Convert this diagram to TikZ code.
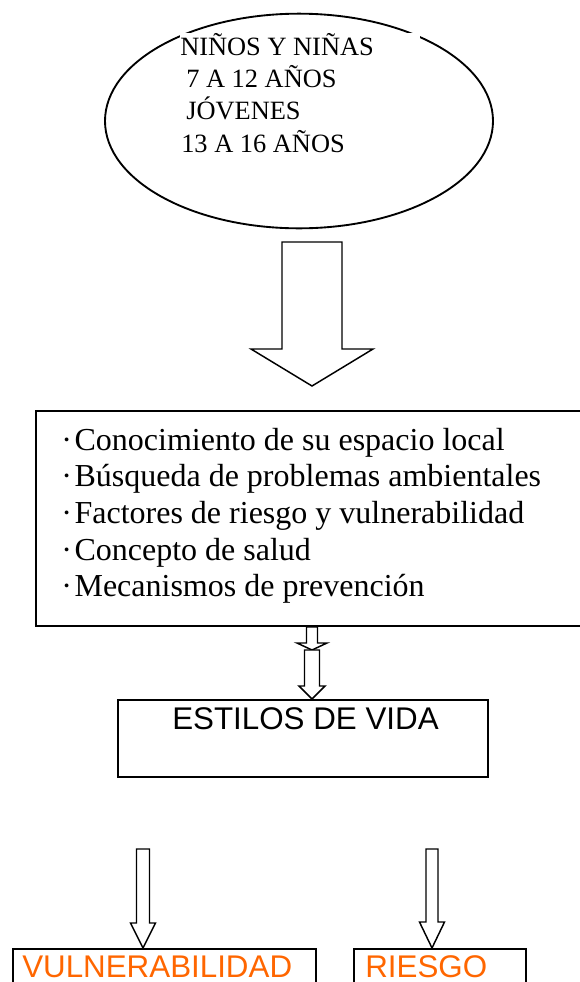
\documentclass[tikz,border=0pt]{standalone}
\usepackage{fontspec}
\setmainfont{Liberation Serif}
\newfontfamily\boxfont{Liberation Sans}
\usepackage{tikz}
\usetikzlibrary{shapes.geometric,calc}
\definecolor{naranja}{HTML}{FF6600}
\newcommand{\flechahueca}[5]{%
	\draw[flecha] ($(#1)+(-#3,0)$) -- ($(#2)+(-#3,-#5)$) -- ($(#2)+(-#4,-#5)$) -- (#2)
		-- ($(#2)+(#4,-#5)$) -- ($(#2)+(#3,-#5)$) -- ($(#1)+(#3,0)$) -- cycle;}

\begin{document}
\begin{tikzpicture}[x=0.75pt, y=-0.75pt, every node/.style={inner sep=0pt},
	caja/.style={draw, line width=1.4pt, anchor=north west},
	flecha/.style={draw, fill=white, line width=1.1pt, line join=miter},
	elip/.style={font=\fontsize{19.8}{24}\selectfont, anchor=base west},
	item/.style={font=\fontsize{24}{28}\selectfont, anchor=base west},
	rotulo/.style={font=\boxfont\fontsize{23.5}{28}\selectfont, anchor=base west}]
	\clip (0,0) rectangle (580,982);
	\node[draw, ellipse, line width=1.4pt, minimum width=291pt, minimum height=161pt] (grupo) at (299,121) {};
	\fill[white] (180,33) rectangle (420,160);
	\foreach \x/\y/\t [count=\i] in {180/55/NIÑOS Y NIÑAS, 186/87/7 A 12 AÑOS, 186/119/JÓVENES, 181/152/13 A 16 AÑOS}
		\node[elip] (e\i) at (\x,\y) {\t};

	\node[caja, minimum width=424pt, minimum height=161.25pt] (temas) at (35,410) {};
	\foreach \t [count=\i] in {Conocimiento de su espacio local, Búsqueda de problemas ambientales,
		Factores de riesgo y vulnerabilidad, Concepto de salud, Mecanismos de prevención}
		\node[item] (t\i) at (61,{413.3+36.7*\i}) {·\hspace{2pt}\t};

	\node[caja, minimum width=277.5pt, minimum height=57.75pt] (estilos) at (117,699) {};
	\node[rotulo] (estilostxt) at (172,729) {ESTILOS DE VIDA};

	\node[caja, minimum width=227.25pt, minimum height=45pt] (vuln) at (12,948) {};
	\node[rotulo, text=naranja] (vulntxt) at (22,977) {VULNERABILIDAD};
	\node[caja, minimum width=129pt, minimum height=45pt] (riesgo) at (353,948) {};
	\node[rotulo, text=naranja] (riesgotxt) at (365,977) {RIESGO};

	\coordinate (f1a) at (312,242);
	\coordinate (f1b) at (312,386);
	\coordinate (f2a) at (temas.south -| f1a);
	\coordinate (f2b) at (312,650);
	\coordinate (f3b) at (estilos.north -| f1a);
	\coordinate (f4a) at (143,849);
	\coordinate (f4b) at (vuln.north -| f4a);
	\coordinate (f5a) at (432,849);
	\coordinate (f5b) at (riesgo.north -| f5a);

	\flechahueca{f1a}{f1b}{30}{61}{37}
	\flechahueca{f2a}{f2b}{5.5}{15}{7}
	\flechahueca{f2b}{f3b}{7.5}{13}{13}
	\flechahueca{f4a}{f4b}{6.5}{12.5}{25}
	\flechahueca{f5a}{f5b}{6}{12.5}{26}
\end{tikzpicture}
\end{document}
